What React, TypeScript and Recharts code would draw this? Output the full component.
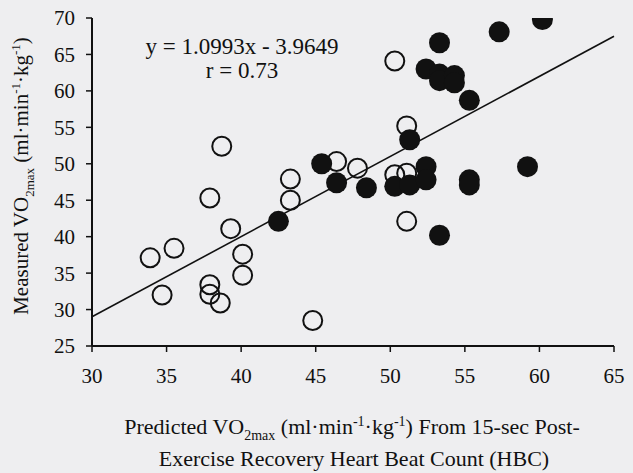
import { ReferenceLine, Scatter, ScatterChart, XAxis, YAxis } from "recharts";

// Open circles (left group) and filled circles (right group).
const openX = [50.3, 51.1, 38.7, 46.4, 47.8, 43.3, 37.9, 43.3, 39.3, 33.9, 35.5, 40.1, 40.1, 37.9, 34.7, 37.9, 38.6, 44.8, 50.3, 51.1, 51.1];
const openY = [64.1, 55.2, 52.4, 50.3, 49.4, 47.9, 45.3, 45.0, 41.1, 37.1, 38.4, 37.6, 34.7, 33.4, 32.0, 32.1, 30.9, 28.5, 48.5, 48.7, 42.1];

const filledX = [60.2, 57.3, 53.3, 52.4, 53.3, 53.3, 54.3, 54.3, 55.3, 51.3, 45.4, 46.4, 48.4, 50.3, 51.3, 52.4, 52.4, 55.3, 55.3, 59.2, 53.3, 42.5];
const filledY = [69.8, 68.1, 66.6, 63.0, 62.3, 61.4, 62.1, 61.1, 58.7, 53.3, 50.0, 47.4, 46.7, 46.9, 47.1, 49.6, 47.8, 47.8, 47.1, 49.6, 40.2, 42.1];

const xTicks = [30, 35, 40, 45, 50, 55, 60, 65];
const yTicks = [25, 30, 35, 40, 45, 50, 55, 60, 65, 70];

// regression reported in the figure
const SLOPE = 1.0993;
const INTERCEPT = -3.9649;

const openPts = openX.map((x, i) => ({ x, y: openY[i] }));
const filledPts = filledX.map((x, i) => ({ x, y: filledY[i] }));

const INK = "#111111";
const BG = "#eeeef0";
const SERIF = '"Liberation Serif", "DejaVu Serif", serif';
const R = 9.5;

const tickStyle = { fontSize: 21, fill: INK, fontFamily: SERIF };

export default function App() {
  return (
    <div style={{ position: "fixed", left: 0, top: 0, width: 633, height: 473, background: BG }}>
      <ScatterChart width={633} height={473} margin={{ top: 18, right: 19, left: 0, bottom: 87 }}>
        <XAxis
          type="number"
          dataKey="x"
          domain={[30, 65]}
          ticks={xTicks}
          allowDataOverflow
          height={40}
          tick={tickStyle}
          tickSize={6}
          tickMargin={16}
          axisLine={{ stroke: INK, strokeWidth: 2 }}
          tickLine={{ stroke: INK, strokeWidth: 1.5 }}
        />
        <YAxis
          type="number"
          dataKey="y"
          domain={[25, 70]}
          ticks={yTicks}
          allowDataOverflow
          width={92}
          tick={tickStyle}
          tickSize={6}
          tickMargin={11}
          axisLine={{ stroke: INK, strokeWidth: 2 }}
          tickLine={{ stroke: INK, strokeWidth: 1.5 }}
        />
        <ReferenceLine
          segment={[
            { x: 30, y: SLOPE * 30 + INTERCEPT },
            { x: 65, y: SLOPE * 65 + INTERCEPT },
          ]}
          stroke={INK}
          strokeWidth={1.6}
          ifOverflow="visible"
        />
        <Scatter
          data={openPts}
          isAnimationActive={false}
          shape={(p: any) => <circle cx={p.cx} cy={p.cy} r={R} fill="none" stroke={INK} strokeWidth={2} />}
        />
        <Scatter
          data={filledPts}
          isAnimationActive={false}
          shape={(p: any) => <circle cx={p.cx} cy={p.cy} r={R + 1} fill={INK} />}
        />
      </ScatterChart>

      <svg width={633} height={473} style={{ position: "absolute", left: 0, top: 0, pointerEvents: "none" }}>
        <g fontFamily={SERIF} fill={INK}>
          <text x={242} y={54} fontSize={23} textAnchor="middle">y = 1.0993x - 3.9649</text>
          <text x={242} y={78} fontSize={23} textAnchor="middle">r = 0.73</text>

          <text transform="translate(28,176) rotate(-90)" fontSize={21} textAnchor="middle">
            Measured VO
            <tspan fontSize={13} dy={6}>2max</tspan>
            <tspan dy={-6}> (ml·min</tspan>
            <tspan fontSize={13} dy={-8}>-1</tspan>
            <tspan dy={8}>·kg</tspan>
            <tspan fontSize={13} dy={-8}>-1</tspan>
            <tspan dy={8}>)</tspan>
          </text>

          <text x={352} y={434} fontSize={22} textAnchor="middle">
            Predicted VO
            <tspan fontSize={14} dy={6}>2max</tspan>
            <tspan dy={-6}> (ml·min</tspan>
            <tspan fontSize={14} dy={-8}>-1</tspan>
            <tspan dy={8}>·kg</tspan>
            <tspan fontSize={14} dy={-8}>-1</tspan>
            <tspan dy={8}>) From 15-sec Post-</tspan>
          </text>
          <text x={354} y={466} fontSize={22} textAnchor="middle">
            Exercise Recovery Heart Beat Count (HBC)
          </text>
        </g>
      </svg>
    </div>
  );
}
